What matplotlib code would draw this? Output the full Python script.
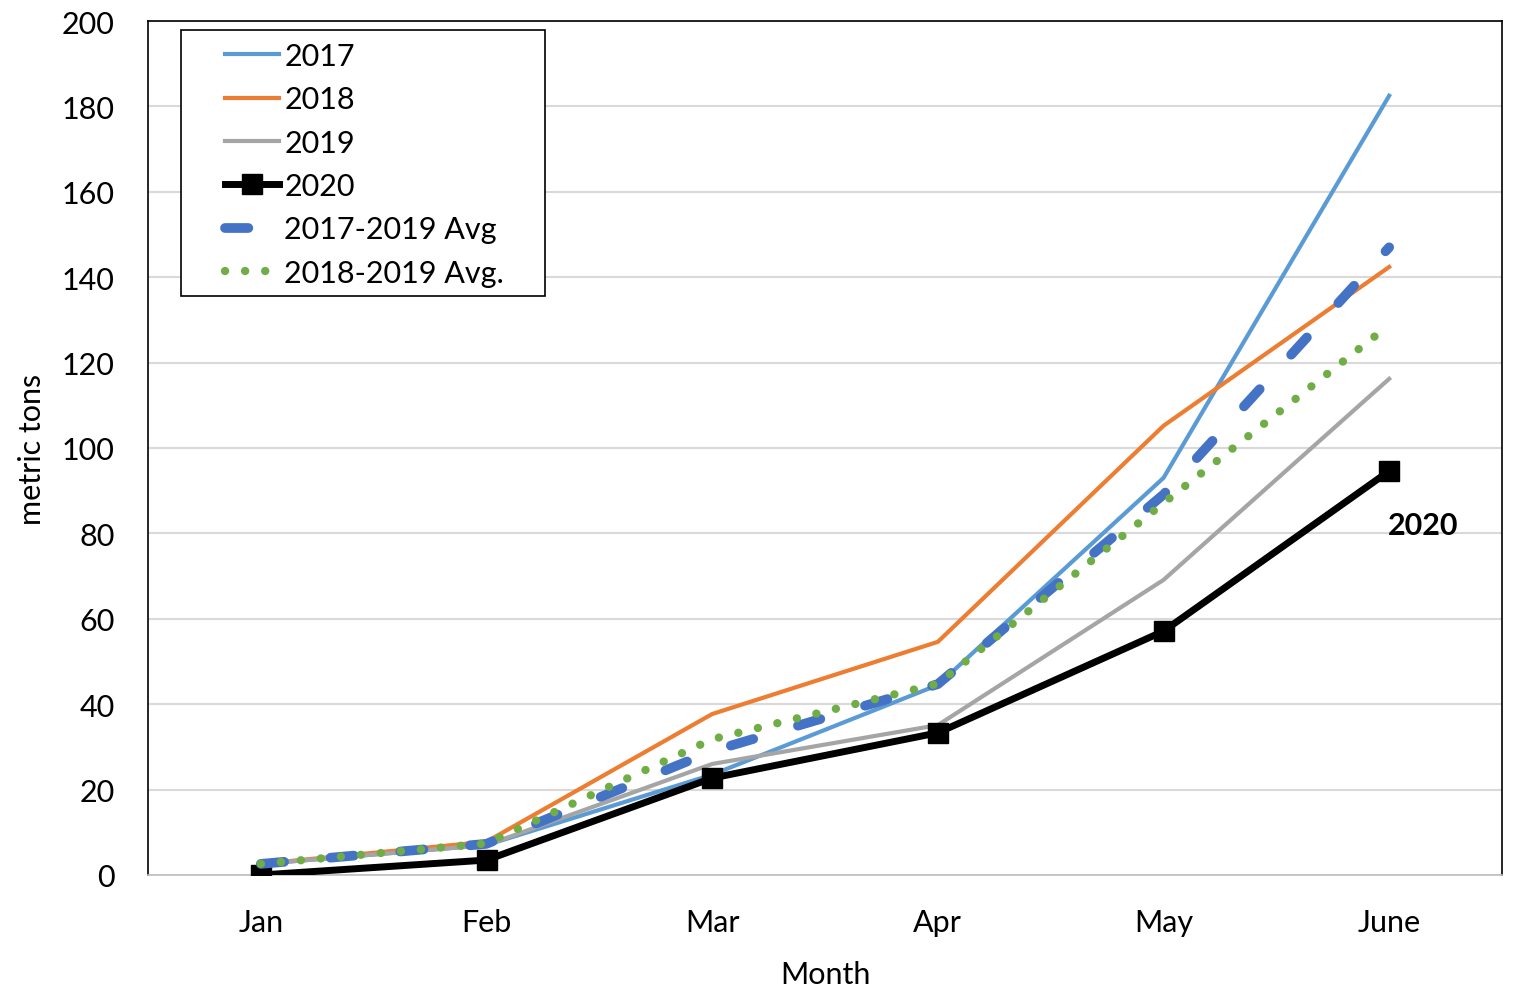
import matplotlib.pyplot as plt
from matplotlib.patches import Rectangle

plt.rcParams['font.family'] = ['Lato', 'DejaVu Sans']

months = ["Jan", "Feb", "Mar", "Apr", "May", "June"]
y2017 = [2.6, 7.0, 23.5, 44.5, 93.0, 182.5]
y2018 = [2.6, 7.8, 37.7, 54.6, 105.2, 142.4]
y2019 = [2.6, 7.0, 26.0, 35.1, 69.1, 116.2]
y2020 = [0.0, 3.5, 22.7, 33.3, 57.1, 94.6]
avg_17_19 = [2.6, 7.3, 29.0, 44.7, 89.1, 147.0]
avg_18_19 = [2.6, 7.4, 31.8, 44.8, 87.1, 128.8]

x = list(range(len(months)))

fig = plt.figure(figsize=(15.14, 9.87), dpi=100)
ax = fig.add_axes([148 / 1514, 1 - 876 / 987, (1502 - 148) / 1514, (876 - 22) / 987])

ax.plot(x, y2017, color='#5B9BD5', lw=3, label="2017", zorder=3)
ax.plot(x, y2018, color='#ED7D31', lw=3, label="2018", zorder=3)
ax.plot(x, y2019, color='#A5A5A5', lw=3, label="2019", zorder=3)
ax.plot(x, y2020, color='black', lw=5, marker='s', ms=14, label="2020", zorder=4)
ax.plot(x, avg_17_19, color='#4472C4', lw=7, dashes=(2.4, 4.8), dash_capstyle='round',
        label="2017-2019 Avg", zorder=5)
ax.plot(x, avg_18_19, color='#70AD47', lw=6, linestyle=(0, (0.01, 2.4)),
        dash_capstyle='round', label="2018-2019 Avg.", zorder=6)

ax.set_xlim(-0.5, 5.5)
ax.set_ylim(0, 200)
ax.set_yticks(range(0, 201, 20))
ax.set_xticks(x)
ax.set_xticklabels(months)
ax.tick_params(axis='both', length=0, labelsize=22)
ax.tick_params(axis='x', pad=24)
ax.tick_params(axis='y', pad=24)
ax.yaxis.grid(True, color='#D9D9D9', lw=1.5)
ax.set_axisbelow(True)
for s in ax.spines.values():
    s.set_color('black')
    s.set_linewidth(1.2)
ax.spines['bottom'].set_color('#BFBFBF')

ax.set_xlabel("Month", fontsize=22)
ax.set_ylabel("metric tons", fontsize=22)
ax.xaxis.set_label_coords(0.5, -0.1)
ax.yaxis.set_label_coords(-0.075, 0.5)

ax.text(5.15, 82, "2020", fontsize=22, fontweight='bold', ha='center', va='center')

# legend box drawn separately (wider padding than matplotlib's default)
ax.add_patch(Rectangle((0.0244, 0.678), 0.2688, 0.3115, transform=ax.transAxes,
                       facecolor='white', edgecolor='black', lw=1.2, zorder=7))
leg = ax.legend(loc='upper left', bbox_to_anchor=(0.048, 0.9895), borderaxespad=0,
                fontsize=22, frameon=False, handlelength=1.77, handletextpad=0.16,
                labelspacing=0.5, borderpad=0.4)
leg.set_zorder(8)

fig.savefig("out.png", dpi=100)
